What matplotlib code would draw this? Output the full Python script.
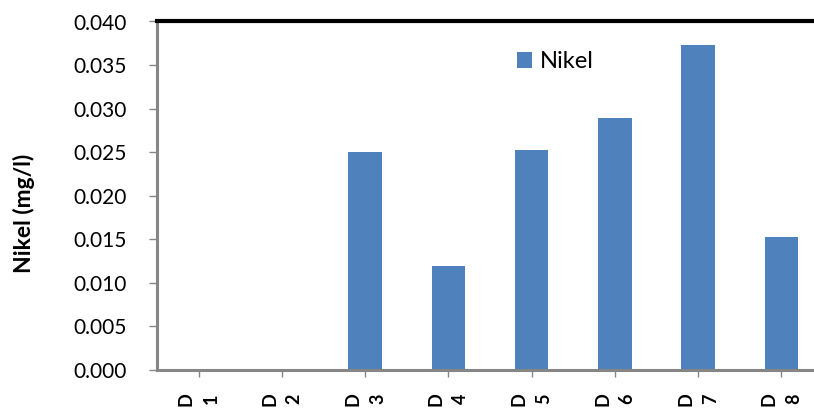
import matplotlib
matplotlib.use("Agg")
import matplotlib.pyplot as plt
from matplotlib.ticker import FormatStrFormatter, MultipleLocator

plt.rcParams['font.family'] = ['Lato', 'DejaVu Sans']

# Nickel concentration per sampling point
sites = ["D\n1", "D\n2", "D\n3", "D\n4", "D\n5", "D\n6", "D\n7", "D\n8"]
nikel = [0.0, 0.0, 0.0250, 0.0119, 0.0252, 0.0289, 0.03725, 0.01525]
series_name = "Nikel"
y_label = "Nikel (mg/l)"

fig = plt.figure(figsize=(8.14, 4.11), dpi=100)
ax_w = 666 / 814
ax_h = (370 - 21.5) / 411
ax = fig.add_axes([157 / 814, 1 - 370 / 411, ax_w, ax_h])

x = range(len(sites))
ax.bar(x, nikel, width=0.4, color="#4F81BD", label=series_name, zorder=2)

ax.set_xlim(-0.5, len(sites) - 0.5)
ax.set_ylim(0, 0.040)
ax.yaxis.set_major_locator(MultipleLocator(0.005))
ax.yaxis.set_major_formatter(FormatStrFormatter("%.3f"))

ax.set_xticks(list(x))
ax.set_xticklabels(sites, rotation=90, fontsize=13, fontweight="bold",
                   linespacing=1.55, va="top", ha="center")

ax.tick_params(axis="y", direction="out", length=6, width=1, color="#868686",
               labelsize=15, pad=16)
ax.tick_params(axis="x", direction="out", length=5, width=1, color="#868686",
               pad=11)

ax.set_ylabel(y_label, fontsize=16.5, fontweight="bold", va="center")
ax.yaxis.set_label_coords((24 - 157) / 666, (370 - 213.5) / 348.5)

for side in ("left", "bottom"):
    ax.spines[side].set_color("#868686")
    ax.spines[side].set_linewidth(2.2)
ax.spines["top"].set_color("black")
ax.spines["top"].set_linewidth(3)
ax.spines["right"].set_visible(False)

ax.legend(loc="center left", bbox_to_anchor=(517 / 814, 1 - 62 / 411),
          bbox_transform=fig.transFigure, frameon=False, fontsize=17,
          handlelength=0.65, handleheight=0.65, handletextpad=0.3,
          borderpad=0, borderaxespad=0)

fig.savefig("out.png", dpi=100)
